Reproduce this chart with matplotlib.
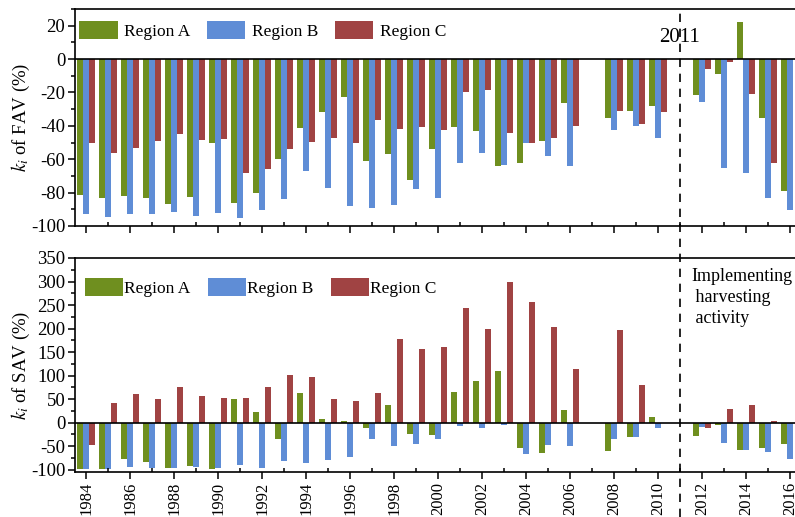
import numpy as np
import matplotlib
matplotlib.use('Agg')
import matplotlib.pyplot as plt
from matplotlib.lines import Line2D
from matplotlib.ticker import MultipleLocator
import matplotlib.transforms as mtransforms

plt.rcParams['font.family'] = ['Liberation Serif', 'DejaVu Serif']
plt.rcParams['mathtext.fontset'] = 'stix'
plt.rcParams['axes.unicode_minus'] = False

nan = np.nan

years = np.arange(1984, 2017)
regions = ['Region A', 'Region B', 'Region C']

# k_i of FAV (%) -- 2007 and 2011 have no data
fav_a = [-81.5, -83, -82, -83.5, -87, -82.5, -50.5, -86.5, -80.5, -60, -41, -32, -23, -61, -57, -72.5,
         -54, -40.5, -43, -64, -62, -49, -26.5, nan, -35.5, -31, -28, nan, -21.5, -9, 22.5, -35.5, -79]
fav_b = [-93, -94.5, -93, -93, -91.5, -94, -92, -95, -90.5, -84, -67, -77.5, -88, -89, -87.5, -78,
         -83.5, -62, -56, -63.5, -50.5, -58, -64, nan, -42.5, -40, -47, nan, -26, -65, -68.5, -83, -90.5]
fav_c = [-50, -56.5, -53, -49, -45, -48.5, -48, -68.5, -66, -54, -49.5, -47, -50, -36.7, -41.6, -40.6,
         -42.5, -20, -18.6, -44.5, -50, -47, -40, nan, -31, -39, -31.5, nan, -6, -2, -21, -62, nan]

# k_i of SAV (%)
sav_a = [-99, -99, -78, -83, -96.7, -93, -99, 50, 23, -35.5, 64, 8.5, 3.5, -10.7, 37, -25,
         -26, 66, 89, 109, -54, -65, 27, nan, -60, -30, 11.4, nan, -29, -5.7, -57.6, -55, -46]
sav_b = [-99, -99, -94.5, -96.7, -96.7, -95, -97, -91, -97, -81, -85, -79, -72.5, -35.5, -50.5, -45,
         -34, -8, -10.7, -5, -67, -48, -49, nan, -34, -30, -11.4, nan, -10, -44, -58, -63, -77]
sav_c = [-48, 42, 60, 51, 75, 57, 53, 53, 75, 101, 97, 51, 47, 64, 177, 155.6,
         161, 244.5, 199, 298, 257, 204, 114, nan, 197, 79, nan, nan, -11.4, 28.4, 37.7, 4.3, nan]

colors  = ['#6f8f1f', '#5f8dd6', '#a04343']
offsets = [-0.27, 0.0, 0.27]
bw      = 0.235
split_year = 2011

fig = plt.figure(figsize=(7.95, 5.17), dpi=100)
ax1 = fig.add_axes([75/795, 1-226/517, 726/795, 217/517])
ax2 = fig.add_axes([75/795, 1-472/517, 726/795, 214/517])

for ax, series in [(ax1, [fav_a, fav_b, fav_c]), (ax2, [sav_a, sav_b, sav_c])]:
    for vals, col, off, lab in zip(series, colors, offsets, regions):
        vals = np.array(vals, dtype=float)
        ok = ~np.isnan(vals)
        ax.bar(years[ok] + off, vals[ok], width=bw, color=col, label=lab, linewidth=0)
    ax.axhline(0, color='black', linewidth=1.2, zorder=3)
    ax.set_xlim(1983.5, 2016.5)
    ax.xaxis.set_major_locator(MultipleLocator(2))
    ax.xaxis.set_minor_locator(MultipleLocator(1))
    ax.tick_params(axis='x', which='major', direction='out', length=5, width=1.1)
    ax.tick_params(axis='x', which='minor', direction='in', length=3, width=1.1)
    ax.tick_params(axis='y', which='major', direction='out', length=5, width=1.1, labelsize=13.5, pad=2)
    ax.tick_params(axis='y', which='minor', direction='out', length=3, width=1.1)
    for s in ax.spines.values():
        s.set_linewidth(1.2)

# top panel
ax1.set_ylim(-100, 30)
ax1.yaxis.set_minor_locator(MultipleLocator(10))
ax1.set_yticks([-100, -80, -60, -40, -20, 0, 20])
ax1.tick_params(axis='x', labelbottom=False)
ax1.set_ylabel(r'$k_i$ of FAV (%)', fontsize=13.5, labelpad=-1)
ax1.text(split_year, 13, '2011', ha='center', va='center', fontsize=15)
ax1.legend(loc='upper left', bbox_to_anchor=(0.006, 0.945), ncol=3, frameon=False, fontsize=12.5,
           handlelength=2.2, handleheight=1.2, handletextpad=0.35, columnspacing=1.0, borderpad=0,
           borderaxespad=0)

# bottom panel
ax2.set_ylim(-105, 350)
ax2.yaxis.set_major_locator(MultipleLocator(50))
ax2.yaxis.set_minor_locator(MultipleLocator(25))
ax2.set_xticks(np.arange(1984, 2017, 2))
ax2.set_xticklabels([str(y) for y in range(1984, 2017, 2)], rotation=90, fontsize=12)
ax2.tick_params(axis='x', which='major', pad=2)
ax2.set_ylabel(r'$k_i$ of SAV (%)', fontsize=13.5, labelpad=-1)
ax2.text(split_year + 0.5, 329, 'Implementing\n harvesting\n activity', ha='left', va='top',
         fontsize=13, linespacing=1.3)
ax2.legend(loc='upper left', bbox_to_anchor=(0.014, 0.905), ncol=3, frameon=False, fontsize=12.5,
           handlelength=2.2, handleheight=1.2, handletextpad=0.05, columnspacing=1.0, borderpad=0,
           borderaxespad=0)

# dashed line at 2011 running through both panels to the bottom of the figure
trans = mtransforms.blended_transform_factory(ax1.transData, fig.transFigure)
fig.add_artist(Line2D([split_year, split_year], [0, 1-9/517], transform=trans, color='black',
                      linestyle=(0, (5, 4)), linewidth=1.2, clip_on=False))

fig.savefig('out.png', dpi=100)
